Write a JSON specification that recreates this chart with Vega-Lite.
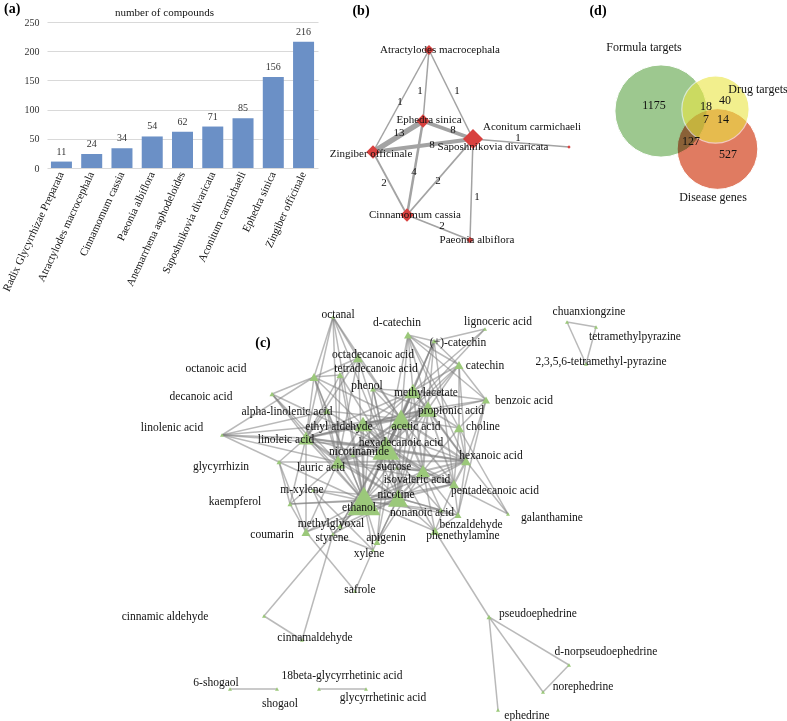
{
  "$schema": "https://vega.github.io/schema/vega-lite/v6.json",
  "background": "white",
  "padding": {"left": 0, "top": 2, "right": 0, "bottom": 0},
  "config": {
    "view": {"stroke": null},
    "text": {"font": "Liberation Serif"},
    "axis": {"labelFont": "Liberation Serif", "titleFont": "Liberation Serif"},
    "title": {"font": "Liberation Serif"}
  },
  "bounds": "full",
  "spacing": 0,
  "datasets": {
    "bars": [
      {"herb": "Radix Glycyrrhizae Preparata", "compounds": 11},
      {"herb": "Atractylodes macrocephala", "compounds": 24},
      {"herb": "Cinnamomum cassia", "compounds": 34},
      {"herb": "Paeonia albiflora", "compounds": 54},
      {"herb": "Anemarrhena asphodeloides", "compounds": 62},
      {"herb": "Saposhnikovia divaricata", "compounds": 71},
      {"herb": "Aconitum carmichaeli", "compounds": 85},
      {"herb": "Ephedra sinica", "compounds": 156},
      {"herb": "Zingiber officinale", "compounds": 216}
    ],
    "bnodes": [
      {"herb": "Atractylodes macrocephala", "x": 428, "y": 51, "degree": 3, "lx": 439, "ly": 51},
      {"herb": "Ephedra sinica", "x": 422, "y": 122, "degree": 4, "lx": 428, "ly": 121},
      {"herb": "Saposhnikovia divaricata", "x": 472, "y": 140, "degree": 6, "lx": 492, "ly": 148},
      {"herb": "Aconitum carmichaeli", "x": 568, "y": 148, "degree": 1, "lx": 531, "ly": 128},
      {"herb": "Zingiber officinale", "x": 372, "y": 153, "degree": 4, "lx": 370, "ly": 155},
      {"herb": "Cinnamomum cassia", "x": 406, "y": 216, "degree": 4, "lx": 414, "ly": 216},
      {"herb": "Paeonia albiflora", "x": 469, "y": 241, "degree": 2, "lx": 476, "ly": 241}
    ],
    "bedges": [
      {"s": "Atractylodes macrocephala", "t": "Zingiber officinale", "w": 1, "lx": 399, "ly": 103},
      {"s": "Atractylodes macrocephala", "t": "Ephedra sinica", "w": 1, "lx": 419, "ly": 92},
      {"s": "Atractylodes macrocephala", "t": "Saposhnikovia divaricata", "w": 1, "lx": 456, "ly": 92},
      {"s": "Ephedra sinica", "t": "Zingiber officinale", "w": 13, "lx": 398, "ly": 134},
      {"s": "Ephedra sinica", "t": "Saposhnikovia divaricata", "w": 8, "lx": 452, "ly": 131},
      {"s": "Zingiber officinale", "t": "Saposhnikovia divaricata", "w": 8, "lx": 431, "ly": 146},
      {"s": "Saposhnikovia divaricata", "t": "Aconitum carmichaeli", "w": 1, "lx": 517, "ly": 139},
      {"s": "Zingiber officinale", "t": "Cinnamomum cassia", "w": 2, "lx": 383, "ly": 184},
      {"s": "Ephedra sinica", "t": "Cinnamomum cassia", "w": 4, "lx": 413, "ly": 173},
      {"s": "Saposhnikovia divaricata", "t": "Cinnamomum cassia", "w": 2, "lx": 437, "ly": 182},
      {"s": "Saposhnikovia divaricata", "t": "Paeonia albiflora", "w": 1, "lx": 476, "ly": 198},
      {"s": "Cinnamomum cassia", "t": "Paeonia albiflora", "w": 2, "lx": 441, "ly": 227}
    ],
    "vsets": [
      {"set": "Formula targets", "x": 660, "y": 112},
      {"set": "Disease genes", "x": 716.5, "y": 150},
      {"set": "Drug targets", "x": 714.5, "y": 110.5}
    ],
    "vlabels": [
      {"label": "Formula targets", "x": 643, "y": 48},
      {"label": "Drug targets", "x": 757, "y": 90},
      {"label": "Disease genes", "x": 712, "y": 198},
      {"label": "1175", "x": 653, "y": 106},
      {"label": "18", "x": 705, "y": 107},
      {"label": "40", "x": 724, "y": 101},
      {"label": "7", "x": 705, "y": 120},
      {"label": "14", "x": 722, "y": 120},
      {"label": "127", "x": 690, "y": 142},
      {"label": "527", "x": 727, "y": 155}
    ],
    "cnodes": [
      {"id": "oal", "name": "octanal", "x": 332, "y": 316, "lx": 337, "ly": 314, "degree": 4},
      {"id": "dcat", "name": "d-catechin", "x": 407, "y": 334, "lx": 396, "ly": 322, "degree": 8},
      {"id": "lig", "name": "lignoceric acid", "x": 484, "y": 328, "lx": 497, "ly": 321, "degree": 4},
      {"id": "pcat", "name": "(+)-catechin", "x": 433, "y": 340, "lx": 457, "ly": 342, "degree": 5},
      {"id": "cat", "name": "catechin", "x": 458, "y": 364, "lx": 484, "ly": 365, "degree": 9},
      {"id": "c18", "name": "octadecanoic acid", "x": 357, "y": 357, "lx": 372, "ly": 354, "degree": 10},
      {"id": "c14", "name": "tetradecanoic acid", "x": 339, "y": 374, "lx": 375, "ly": 368, "degree": 7},
      {"id": "c8", "name": "octanoic acid", "x": 313, "y": 376, "lx": 215, "ly": 368, "degree": 9},
      {"id": "c10", "name": "decanoic acid", "x": 271, "y": 393, "lx": 200, "ly": 396, "degree": 5},
      {"id": "phe", "name": "phenol", "x": 372, "y": 388, "lx": 366, "ly": 385, "degree": 6},
      {"id": "mac", "name": "methylacetate", "x": 412, "y": 390, "lx": 425, "ly": 392, "degree": 17},
      {"id": "bzo", "name": "benzoic acid", "x": 485, "y": 399, "lx": 523, "ly": 400, "degree": 8},
      {"id": "aln", "name": "alpha-linolenic acid", "x": 326, "y": 410, "lx": 286, "ly": 411, "degree": 7},
      {"id": "pro", "name": "propionic acid", "x": 427, "y": 408, "lx": 450, "ly": 410, "degree": 18},
      {"id": "eal", "name": "ethyl aldehyde", "x": 362, "y": 423, "lx": 338, "ly": 426, "degree": 17},
      {"id": "ace", "name": "acetic acid", "x": 400, "y": 418, "lx": 415, "ly": 426, "degree": 22},
      {"id": "cho", "name": "choline", "x": 458, "y": 427, "lx": 482, "ly": 426, "degree": 10},
      {"id": "lnn", "name": "linolenic acid", "x": 221, "y": 434, "lx": 171, "ly": 427, "degree": 4},
      {"id": "lin", "name": "linoleic acid", "x": 305, "y": 437, "lx": 285, "ly": 439, "degree": 15},
      {"id": "c16", "name": "hexadecanoic acid", "x": 385, "y": 447, "lx": 400, "ly": 442, "degree": 27},
      {"id": "nam", "name": "nicotinamide", "x": 352, "y": 454, "lx": 358, "ly": 451, "degree": 5},
      {"id": "c6", "name": "hexanoic acid", "x": 465, "y": 460, "lx": 490, "ly": 455, "degree": 10},
      {"id": "gly", "name": "glycyrrhizin", "x": 278, "y": 461, "lx": 220, "ly": 466, "degree": 5},
      {"id": "c12", "name": "lauric acid", "x": 337, "y": 461, "lx": 320, "ly": 467, "degree": 15},
      {"id": "suc", "name": "sucrose", "x": 396, "y": 467, "lx": 393, "ly": 466, "degree": 4},
      {"id": "iso", "name": "isovaleric acid", "x": 422, "y": 470, "lx": 416, "ly": 479, "degree": 14},
      {"id": "c15", "name": "pentadecanoic acid", "x": 453, "y": 483, "lx": 494, "ly": 490, "degree": 10},
      {"id": "mxy", "name": "m-xylene", "x": 312, "y": 489, "lx": 301, "ly": 489, "degree": 4},
      {"id": "kae", "name": "kaempferol", "x": 289, "y": 503, "lx": 234, "ly": 501, "degree": 5},
      {"id": "nic", "name": "nicotine", "x": 397, "y": 497, "lx": 395, "ly": 494, "degree": 20},
      {"id": "eth", "name": "ethanol", "x": 363, "y": 500, "lx": 358, "ly": 507, "degree": 33},
      {"id": "c9", "name": "nonanoic acid", "x": 440, "y": 509, "lx": 421, "ly": 512, "degree": 5},
      {"id": "gal", "name": "galanthamine", "x": 507, "y": 513, "lx": 551, "ly": 517, "degree": 4},
      {"id": "bza", "name": "benzaldehyde", "x": 457, "y": 514, "lx": 470, "ly": 524, "degree": 7},
      {"id": "mgo", "name": "methylglyoxal", "x": 339, "y": 525, "lx": 330, "ly": 523, "degree": 6},
      {"id": "cou", "name": "coumarin", "x": 305, "y": 531, "lx": 271, "ly": 534, "degree": 9},
      {"id": "sty", "name": "styrene", "x": 332, "y": 533, "lx": 331, "ly": 537, "degree": 4},
      {"id": "api", "name": "apigenin", "x": 376, "y": 541, "lx": 385, "ly": 537, "degree": 7},
      {"id": "pea", "name": "phenethylamine", "x": 434, "y": 530, "lx": 462, "ly": 535, "degree": 9},
      {"id": "xyl", "name": "xylene", "x": 372, "y": 549, "lx": 368, "ly": 553, "degree": 4},
      {"id": "saf", "name": "safrole", "x": 354, "y": 590, "lx": 359, "ly": 589, "degree": 4},
      {"id": "cia", "name": "cinnamic aldehyde", "x": 263, "y": 615, "lx": 164, "ly": 616, "degree": 4},
      {"id": "cid", "name": "cinnamaldehyde", "x": 301, "y": 639, "lx": 314, "ly": 637, "degree": 4},
      {"id": "pse", "name": "pseudoephedrine", "x": 488, "y": 616, "lx": 537, "ly": 613, "degree": 5},
      {"id": "dnp", "name": "d-norpseudoephedrine", "x": 568, "y": 664, "lx": 605, "ly": 651, "degree": 4},
      {"id": "nor", "name": "norephedrine", "x": 542, "y": 691, "lx": 582, "ly": 686, "degree": 4},
      {"id": "eph", "name": "ephedrine", "x": 497, "y": 709, "lx": 526, "ly": 715, "degree": 4},
      {"id": "sh6", "name": "6-shogaol", "x": 229, "y": 688, "lx": 215, "ly": 682, "degree": 4},
      {"id": "sho", "name": "shogaol", "x": 276, "y": 688, "lx": 279, "ly": 703, "degree": 4},
      {"id": "g18", "name": "18beta-glycyrrhetinic acid", "x": 318, "y": 688, "lx": 341, "ly": 675, "degree": 4},
      {"id": "gla", "name": "glycyrrhetinic acid", "x": 365, "y": 688, "lx": 382, "ly": 697, "degree": 4},
      {"id": "chx", "name": "chuanxiongzine", "x": 566, "y": 321, "lx": 588, "ly": 311, "degree": 4},
      {"id": "tmp", "name": "tetramethylpyrazine", "x": 595, "y": 326, "lx": 634, "ly": 336, "degree": 4},
      {"id": "t56", "name": "2,3,5,6-tetramethyl-pyrazine", "x": 585, "y": 363, "lx": 600, "ly": 361, "degree": 4}
    ],
    "cedges": [
      {"s": "eth", "t": "c16", "w": 3}, {"s": "eth", "t": "nic", "w": 3}, {"s": "eth", "t": "ace", "w": 2},
      {"s": "eth", "t": "pro", "w": 1}, {"s": "eth", "t": "mac", "w": 2}, {"s": "eth", "t": "eal", "w": 2},
      {"s": "eth", "t": "c12", "w": 2}, {"s": "eth", "t": "lin", "w": 2}, {"s": "eth", "t": "iso", "w": 2},
      {"s": "eth", "t": "c6", "w": 1}, {"s": "eth", "t": "c15", "w": 1},
      {"s": "c16", "t": "ace", "w": 3}, {"s": "c16", "t": "nic", "w": 2}, {"s": "c16", "t": "pro", "w": 2},
      {"s": "c16", "t": "mac", "w": 2}, {"s": "c16", "t": "eal", "w": 2}, {"s": "c16", "t": "c12", "w": 4},
      {"s": "c16", "t": "lin", "w": 3}, {"s": "c16", "t": "iso", "w": 3}, {"s": "c16", "t": "c6", "w": 3},
      {"s": "c16", "t": "c15", "w": 2},
      {"s": "ace", "t": "nic", "w": 2}, {"s": "ace", "t": "pro", "w": 4}, {"s": "ace", "t": "mac", "w": 3},
      {"s": "ace", "t": "eal", "w": 3}, {"s": "ace", "t": "c12", "w": 2}, {"s": "ace", "t": "lin", "w": 2},
      {"s": "ace", "t": "iso", "w": 3}, {"s": "ace", "t": "c6", "w": 3}, {"s": "ace", "t": "c15", "w": 2},
      {"s": "nic", "t": "pro", "w": 1}, {"s": "nic", "t": "mac", "w": 1}, {"s": "nic", "t": "eal", "w": 1},
      {"s": "nic", "t": "c12", "w": 2}, {"s": "nic", "t": "lin", "w": 1}, {"s": "nic", "t": "iso", "w": 3},
      {"s": "nic", "t": "c6", "w": 2}, {"s": "nic", "t": "c15", "w": 2},
      {"s": "pro", "t": "mac", "w": 3}, {"s": "pro", "t": "eal", "w": 2}, {"s": "pro", "t": "c12", "w": 1},
      {"s": "pro", "t": "lin", "w": 1}, {"s": "pro", "t": "iso", "w": 3}, {"s": "pro", "t": "c6", "w": 2},
      {"s": "pro", "t": "c15", "w": 2},
      {"s": "mac", "t": "eal", "w": 2}, {"s": "mac", "t": "c12", "w": 1}, {"s": "mac", "t": "lin", "w": 1},
      {"s": "mac", "t": "iso", "w": 2}, {"s": "mac", "t": "c6", "w": 2},
      {"s": "eal", "t": "c12", "w": 2}, {"s": "eal", "t": "lin", "w": 2}, {"s": "eal", "t": "iso", "w": 1},
      {"s": "eal", "t": "c6", "w": 1},
      {"s": "c12", "t": "lin", "w": 2}, {"s": "c12", "t": "iso", "w": 2}, {"s": "c12", "t": "c6", "w": 3},
      {"s": "c12", "t": "c15", "w": 1},
      {"s": "lin", "t": "iso", "w": 1}, {"s": "lin", "t": "c6", "w": 2},
      {"s": "iso", "t": "c6", "w": 3}, {"s": "iso", "t": "c15", "w": 2}, {"s": "c6", "t": "c15", "w": 3},
      {"s": "oal", "t": "eth", "w": 1}, {"s": "oal", "t": "c16", "w": 1}, {"s": "oal", "t": "ace", "w": 1},
      {"s": "oal", "t": "lin", "w": 1}, {"s": "oal", "t": "c12", "w": 1}, {"s": "oal", "t": "c18", "w": 1},
      {"s": "oal", "t": "c8", "w": 1},
      {"s": "dcat", "t": "mac", "w": 1}, {"s": "dcat", "t": "ace", "w": 1}, {"s": "dcat", "t": "pcat", "w": 1},
      {"s": "dcat", "t": "cat", "w": 1}, {"s": "dcat", "t": "pro", "w": 1}, {"s": "dcat", "t": "cho", "w": 1},
      {"s": "dcat", "t": "c6", "w": 1}, {"s": "dcat", "t": "c16", "w": 1},
      {"s": "lig", "t": "mac", "w": 1}, {"s": "lig", "t": "ace", "w": 1}, {"s": "lig", "t": "pcat", "w": 1},
      {"s": "pcat", "t": "cat", "w": 1}, {"s": "pcat", "t": "mac", "w": 1}, {"s": "pcat", "t": "ace", "w": 1},
      {"s": "pcat", "t": "c16", "w": 1}, {"s": "pcat", "t": "c15", "w": 1}, {"s": "pcat", "t": "nic", "w": 1},
      {"s": "pcat", "t": "pro", "w": 1},
      {"s": "cat", "t": "bzo", "w": 1}, {"s": "cat", "t": "cho", "w": 1}, {"s": "cat", "t": "pro", "w": 1},
      {"s": "cat", "t": "ace", "w": 1}, {"s": "cat", "t": "c6", "w": 1}, {"s": "cat", "t": "mac", "w": 1},
      {"s": "cat", "t": "c16", "w": 1},
      {"s": "c18", "t": "c8", "w": 1}, {"s": "c18", "t": "c16", "w": 1}, {"s": "c18", "t": "c12", "w": 1},
      {"s": "c18", "t": "lin", "w": 1}, {"s": "c18", "t": "eth", "w": 1}, {"s": "c18", "t": "ace", "w": 1},
      {"s": "c18", "t": "c14", "w": 1},
      {"s": "c14", "t": "c8", "w": 1}, {"s": "c14", "t": "c16", "w": 1}, {"s": "c14", "t": "c12", "w": 1},
      {"s": "c14", "t": "eth", "w": 1}, {"s": "c14", "t": "lin", "w": 1},
      {"s": "c8", "t": "c10", "w": 1}, {"s": "c8", "t": "aln", "w": 1}, {"s": "c8", "t": "lin", "w": 1},
      {"s": "c8", "t": "c12", "w": 1}, {"s": "c8", "t": "eth", "w": 1}, {"s": "c8", "t": "c16", "w": 1},
      {"s": "c8", "t": "ace", "w": 1}, {"s": "c8", "t": "lnn", "w": 1},
      {"s": "c10", "t": "lin", "w": 1}, {"s": "c10", "t": "c12", "w": 1}, {"s": "c10", "t": "c16", "w": 1},
      {"s": "c10", "t": "eth", "w": 1},
      {"s": "phe", "t": "mac", "w": 1}, {"s": "phe", "t": "ace", "w": 1}, {"s": "phe", "t": "eth", "w": 1},
      {"s": "phe", "t": "c16", "w": 1}, {"s": "phe", "t": "nic", "w": 1}, {"s": "phe", "t": "pro", "w": 1},
      {"s": "bzo", "t": "pro", "w": 1}, {"s": "bzo", "t": "ace", "w": 1}, {"s": "bzo", "t": "c6", "w": 1},
      {"s": "bzo", "t": "mac", "w": 1}, {"s": "bzo", "t": "dcat", "w": 1}, {"s": "bzo", "t": "bza", "w": 1},
      {"s": "bzo", "t": "cho", "w": 1},
      {"s": "aln", "t": "lin", "w": 1}, {"s": "aln", "t": "c16", "w": 1}, {"s": "aln", "t": "ace", "w": 1},
      {"s": "aln", "t": "eth", "w": 1}, {"s": "aln", "t": "c12", "w": 1},
      {"s": "cho", "t": "pro", "w": 1}, {"s": "cho", "t": "c6", "w": 1}, {"s": "cho", "t": "ace", "w": 1},
      {"s": "cho", "t": "gal", "w": 1}, {"s": "cho", "t": "c15", "w": 1}, {"s": "cho", "t": "iso", "w": 1},
      {"s": "lnn", "t": "aln", "w": 1}, {"s": "lnn", "t": "lin", "w": 1}, {"s": "lnn", "t": "c16", "w": 1},
      {"s": "lnn", "t": "ace", "w": 1}, {"s": "lnn", "t": "gly", "w": 1}, {"s": "lnn", "t": "c12", "w": 1},
      {"s": "nam", "t": "c16", "w": 1}, {"s": "nam", "t": "eth", "w": 1}, {"s": "nam", "t": "c12", "w": 1},
      {"s": "nam", "t": "nic", "w": 1}, {"s": "nam", "t": "ace", "w": 1},
      {"s": "gly", "t": "lin", "w": 1}, {"s": "gly", "t": "c12", "w": 1}, {"s": "gly", "t": "kae", "w": 1},
      {"s": "gly", "t": "cou", "w": 1}, {"s": "gly", "t": "eth", "w": 1},
      {"s": "suc", "t": "eth", "w": 1}, {"s": "suc", "t": "nic", "w": 1}, {"s": "suc", "t": "iso", "w": 1},
      {"s": "suc", "t": "c16", "w": 1},
      {"s": "kae", "t": "eth", "w": 1}, {"s": "kae", "t": "nic", "w": 1}, {"s": "kae", "t": "c12", "w": 1},
      {"s": "kae", "t": "cou", "w": 1}, {"s": "kae", "t": "lin", "w": 1},
      {"s": "mxy", "t": "eth", "w": 1}, {"s": "mxy", "t": "xyl", "w": 1}, {"s": "mxy", "t": "sty", "w": 1},
      {"s": "mxy", "t": "nic", "w": 1},
      {"s": "c9", "t": "eth", "w": 1}, {"s": "c9", "t": "nic", "w": 1}, {"s": "c9", "t": "c16", "w": 1},
      {"s": "c9", "t": "iso", "w": 1},
      {"s": "gal", "t": "iso", "w": 1}, {"s": "gal", "t": "c6", "w": 1},
      {"s": "bza", "t": "nic", "w": 1}, {"s": "bza", "t": "iso", "w": 1}, {"s": "bza", "t": "c6", "w": 1},
      {"s": "bza", "t": "c15", "w": 1}, {"s": "bza", "t": "eth", "w": 1}, {"s": "bza", "t": "pea", "w": 1},
      {"s": "mgo", "t": "eth", "w": 1}, {"s": "mgo", "t": "nic", "w": 1}, {"s": "mgo", "t": "ace", "w": 1},
      {"s": "mgo", "t": "cia", "w": 1}, {"s": "mgo", "t": "c16", "w": 1},
      {"s": "cou", "t": "eth", "w": 1}, {"s": "cou", "t": "lin", "w": 1}, {"s": "cou", "t": "c12", "w": 1},
      {"s": "cou", "t": "saf", "w": 1}, {"s": "cou", "t": "nic", "w": 1},
      {"s": "sty", "t": "eth", "w": 1}, {"s": "sty", "t": "cid", "w": 1}, {"s": "sty", "t": "xyl", "w": 1},
      {"s": "sty", "t": "nic", "w": 1},
      {"s": "api", "t": "eth", "w": 1}, {"s": "api", "t": "nic", "w": 1}, {"s": "api", "t": "c16", "w": 1},
      {"s": "api", "t": "ace", "w": 1}, {"s": "api", "t": "iso", "w": 1},
      {"s": "pea", "t": "c15", "w": 1}, {"s": "pea", "t": "iso", "w": 1}, {"s": "pea", "t": "nic", "w": 1},
      {"s": "pea", "t": "eth", "w": 1}, {"s": "pea", "t": "pse", "w": 1}, {"s": "pea", "t": "c16", "w": 1},
      {"s": "xyl", "t": "eth", "w": 1}, {"s": "xyl", "t": "saf", "w": 1}, {"s": "xyl", "t": "nic", "w": 1},
      {"s": "cia", "t": "cid", "w": 1},
      {"s": "pse", "t": "eph", "w": 1}, {"s": "pse", "t": "nor", "w": 1}, {"s": "pse", "t": "dnp", "w": 1},
      {"s": "dnp", "t": "nor", "w": 1},
      {"s": "sh6", "t": "sho", "w": 1}, {"s": "g18", "t": "gla", "w": 1},
      {"s": "chx", "t": "tmp", "w": 1}, {"s": "chx", "t": "t56", "w": 1}, {"s": "tmp", "t": "t56", "w": 1}
    ]
  },
  "vconcat": [
    {
      "hconcat": [
        {
          "width": 271,
          "height": 146,
          "data": {"name": "bars"},
          "title": {"text": "(a)", "anchor": "start", "frame": "group", "dx": -43, "dy": 10, "offset": 0, "fontSize": 14, "fontWeight": "bold", "color": "#000", "font": "Liberation Serif"},
          "encoding": {
            "x": {
              "field": "herb", "type": "nominal", "sort": null,
              "scale": {"paddingInner": 0.306, "paddingOuter": 0.13},
              "axis": {"title": null, "labelAngle": -65, "labelFontSize": 11, "labelColor": "#111", "ticks": false, "domain": false, "labelPadding": 4, "labelLimit": 300}
            },
            "y": {
              "field": "compounds", "type": "quantitative",
              "scale": {"domain": [0, 250], "nice": false},
              "axis": {"values": [0, 50, 100, 150, 200, 250], "grid": true, "gridColor": "#d9d9d9", "domain": false, "ticks": false, "labelFontSize": 10, "labelColor": "#333", "labelPadding": 8,
                "title": "number of compounds", "titleAngle": 0, "titleX": 117, "titleY": -10, "titleAlign": "center", "titleBaseline": "middle", "titleFontSize": 11, "titleFontWeight": "normal", "titleColor": "#111"}
            }
          },
          "layer": [
            {"mark": {"type": "bar", "color": "#6b90c6"}},
            {"mark": {"type": "text", "dy": -10, "fontSize": 10, "color": "#333", "baseline": "middle"}, "encoding": {"text": {"field": "compounds", "type": "quantitative"}}}
          ]
        },
        {
          "width": 260,
          "height": 237,
          "layer": [
            {
              "data": {"name": "bedges"},
              "transform": [
                {"lookup": "s", "from": {"data": {"name": "bnodes"}, "key": "herb", "fields": ["x", "y"]}, "as": ["sx", "sy"]},
                {"lookup": "t", "from": {"data": {"name": "bnodes"}, "key": "herb", "fields": ["x", "y"]}, "as": ["tx", "ty"]}
              ],
              "mark": {"type": "rule", "color": "#a3a3a3"},
              "encoding": {
                "x": {"field": "sx", "type": "quantitative", "scale": {"domain": [327, 587], "nice": false, "zero": false}, "axis": null},
                "y": {"field": "sy", "type": "quantitative", "scale": {"domain": [23, 260], "nice": false, "zero": false, "reverse": true}, "axis": null},
                "x2": {"field": "tx"},
                "y2": {"field": "ty"},
                "strokeWidth": {"field": "w", "type": "quantitative", "scale": {"domain": [1, 13], "range": [1.5, 5.5]}, "legend": null}
              }
            },
            {
              "data": {"name": "bedges"},
              "mark": {"type": "text", "fontSize": 11, "color": "#111"},
              "encoding": {
                "x": {"field": "lx", "type": "quantitative", "scale": {"domain": [327, 587], "nice": false, "zero": false}, "axis": null},
                "y": {"field": "ly", "type": "quantitative", "scale": {"domain": [23, 260], "nice": false, "zero": false, "reverse": true}, "axis": null},
                "text": {"field": "w", "type": "quantitative"}
              }
            },
            {
              "data": {"name": "bnodes"},
              "mark": {"type": "point", "shape": "diamond", "filled": true, "color": "#d8403e", "opacity": 1},
              "encoding": {
                "x": {"field": "x", "type": "quantitative", "scale": {"domain": [327, 587], "nice": false, "zero": false}, "axis": null},
                "y": {"field": "y", "type": "quantitative", "scale": {"domain": [23, 260], "nice": false, "zero": false, "reverse": true}, "axis": null},
                "size": {"field": "degree", "type": "quantitative", "scale": {"type": "pow", "exponent": 2, "domain": [0, 6], "range": [0, 400]}, "legend": null}
              }
            },
            {
              "data": {"name": "bnodes"},
              "mark": {"type": "text", "fontSize": 11, "color": "#111"},
              "encoding": {
                "x": {"field": "lx", "type": "quantitative", "scale": {"domain": [327, 587], "nice": false, "zero": false}, "axis": null},
                "y": {"field": "ly", "type": "quantitative", "scale": {"domain": [23, 260], "nice": false, "zero": false, "reverse": true}, "axis": null},
                "text": {"field": "herb", "type": "nominal"}
              }
            },
            {
              "data": {"values": [{}]},
              "mark": {"type": "text", "text": "(b)", "fontSize": 14, "fontWeight": "bold", "color": "#000"},
              "encoding": {
                "x": {"datum": 360, "type": "quantitative", "scale": {"domain": [327, 587], "nice": false, "zero": false}, "axis": null},
                "y": {"datum": 12, "type": "quantitative", "scale": {"domain": [23, 260], "nice": false, "zero": false, "reverse": true}, "axis": null}
              }
            }
          ]
        },
        {
          "width": 190,
          "height": 237,
          "layer": [
            {
              "data": {"name": "vsets"},
              "transform": [{"filter": "datum.set !== 'Drug targets'"}],
              "mark": {"type": "point", "shape": "circle", "filled": true, "opacity": 1, "blend": "multiply", "stroke": "white", "strokeWidth": 1},
              "encoding": {
                "x": {"field": "x", "type": "quantitative", "scale": {"domain": [597, 787], "nice": false, "zero": false}, "axis": null},
                "y": {"field": "y", "type": "quantitative", "scale": {"domain": [23, 260], "nice": false, "zero": false, "reverse": true}, "axis": null},
                "color": {"field": "set", "type": "nominal", "scale": {"domain": ["Formula targets", "Disease genes", "Drug targets"], "range": ["#9dc88f", "#e07b61", "#ebe643"]}, "legend": null},
                "size": {"field": "set", "type": "ordinal", "scale": {"domain": ["Formula targets", "Disease genes", "Drug targets"], "range": [8495, 4536, 1590]}, "legend": null}
              }
            },
            {
              "data": {"name": "vsets"},
              "transform": [{"filter": "datum.set === 'Drug targets'"}],
              "mark": {"type": "point", "shape": "circle", "filled": true, "opacity": 0.6, "stroke": "white", "strokeWidth": 1.2},
              "encoding": {
                "x": {"field": "x", "type": "quantitative", "scale": {"domain": [597, 787], "nice": false, "zero": false}, "axis": null},
                "y": {"field": "y", "type": "quantitative", "scale": {"domain": [23, 260], "nice": false, "zero": false, "reverse": true}, "axis": null},
                "color": {"field": "set", "type": "nominal", "scale": {"domain": ["Formula targets", "Disease genes", "Drug targets"], "range": ["#9dc88f", "#e07b61", "#ebe643"]}, "legend": null},
                "size": {"field": "set", "type": "ordinal", "scale": {"domain": ["Formula targets", "Disease genes", "Drug targets"], "range": [8495, 4536, 1590]}, "legend": null}
              }
            },
            {
              "data": {"name": "vlabels"},
              "mark": {"type": "text", "fontSize": 12, "color": "#111"},
              "encoding": {
                "x": {"field": "x", "type": "quantitative", "scale": {"domain": [597, 787], "nice": false, "zero": false}, "axis": null},
                "y": {"field": "y", "type": "quantitative", "scale": {"domain": [23, 260], "nice": false, "zero": false, "reverse": true}, "axis": null},
                "text": {"field": "label", "type": "nominal"}
              }
            },
            {
              "data": {"values": [{}]},
              "mark": {"type": "text", "text": "(d)", "fontSize": 14, "fontWeight": "bold", "color": "#000"},
              "encoding": {
                "x": {"datum": 597, "type": "quantitative", "scale": {"domain": [597, 787], "nice": false, "zero": false}, "axis": null},
                "y": {"datum": 12, "type": "quantitative", "scale": {"domain": [23, 260], "nice": false, "zero": false, "reverse": true}, "axis": null}
              }
            }
          ]
        }
      ],
      "spacing": 10,
      "bounds": "flush"
    },
    {
      "width": 741,
      "height": 429,
      "layer": [
        {
          "data": {"name": "cedges"},
          "transform": [
            {"lookup": "s", "from": {"data": {"name": "cnodes"}, "key": "id", "fields": ["x", "y"]}, "as": ["sx", "sy"]},
            {"lookup": "t", "from": {"data": {"name": "cnodes"}, "key": "id", "fields": ["x", "y"]}, "as": ["tx", "ty"]}
          ],
          "mark": {"type": "rule", "color": "#7f7f7f", "opacity": 0.55},
          "encoding": {
            "x": {"field": "sx", "type": "quantitative", "scale": {"domain": [46, 787], "nice": false, "zero": false}, "axis": null},
            "y": {"field": "sy", "type": "quantitative", "scale": {"domain": [292, 721], "nice": false, "zero": false, "reverse": true}, "axis": null},
            "x2": {"field": "tx"},
            "y2": {"field": "ty"},
            "strokeWidth": {"field": "w", "type": "quantitative", "scale": {"domain": [1, 4], "range": [0.6, 3.4]}, "legend": null}
          }
        },
        {
          "data": {"name": "cnodes"},
          "mark": {"type": "point", "shape": "triangle-up", "filled": true, "color": "#9bc87a", "opacity": 1},
          "encoding": {
            "x": {"field": "x", "type": "quantitative", "scale": {"domain": [46, 787], "nice": false, "zero": false}, "axis": null},
            "y": {"field": "y", "type": "quantitative", "scale": {"domain": [292, 721], "nice": false, "zero": false, "reverse": true}, "axis": null},
            "size": {"field": "degree", "type": "quantitative", "scale": {"type": "pow", "exponent": 2, "domain": [0, 33], "range": [0, 1089]}, "legend": null}
          }
        },
        {
          "data": {"name": "cnodes"},
          "mark": {"type": "text", "fontSize": 11.5, "color": "#111"},
          "encoding": {
            "x": {"field": "lx", "type": "quantitative", "scale": {"domain": [46, 787], "nice": false, "zero": false}, "axis": null},
            "y": {"field": "ly", "type": "quantitative", "scale": {"domain": [292, 721], "nice": false, "zero": false, "reverse": true}, "axis": null},
            "text": {"field": "name", "type": "nominal"}
          }
        },
        {
          "data": {"values": [{}]},
          "mark": {"type": "text", "text": "(c)", "fontSize": 14, "fontWeight": "bold", "color": "#000"},
          "encoding": {
            "x": {"datum": 262, "type": "quantitative", "scale": {"domain": [46, 787], "nice": false, "zero": false}, "axis": null},
            "y": {"datum": 342, "type": "quantitative", "scale": {"domain": [292, 721], "nice": false, "zero": false, "reverse": true}, "axis": null}
          }
        }
      ]
    }
  ]
}
